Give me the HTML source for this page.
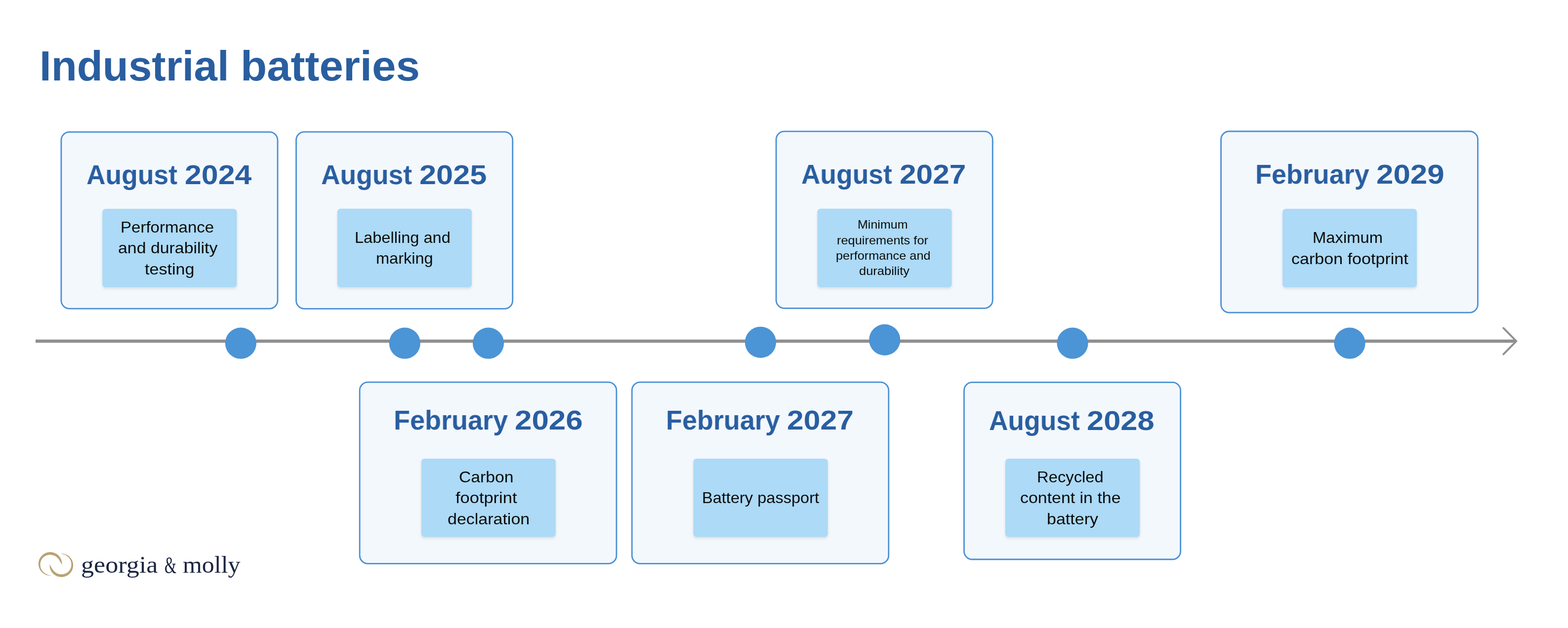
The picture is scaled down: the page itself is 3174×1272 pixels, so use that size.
<!DOCTYPE html>
<html lang="en">
<head>
<meta charset="utf-8">
<title>Industrial batteries</title>
<style>
html,body{margin:0;padding:0;background:#fff;}
body{width:3174px;height:1272px;position:relative;overflow:hidden;font-family:"Liberation Sans",sans-serif;}
.g{position:absolute;left:0;top:0;margin:0;padding:0;font-size:0;font-weight:400;}
.t{position:absolute;display:block;white-space:pre;line-height:1;will-change:transform;transform-origin:0 0;}
.title{font-weight:700;color:#295ea0;}
.title .t{font-size:85px;}
.h{font-weight:700;color:#295ea0;}
.b{color:#0a0a0a;}
.logo{font-family:"Liberation Serif",serif;color:#1b2542;}
.logo .t{font-size:49px;}
svg{position:absolute;left:0;top:0;}
</style>
</head>
<body>
<svg width="3174" height="1272" viewBox="0 0 3174 1272">
<defs><filter id="sh" x="-10%" y="-10%" width="120%" height="130%"><feGaussianBlur stdDeviation="2.6"/></filter></defs>
<rect x="123.90" y="267.40" width="438.10" height="357.80" rx="16.60" fill="#f3f8fd" stroke="#4a90d3" stroke-width="2.8"/>
<rect x="599.50" y="267.10" width="438.20" height="358.20" rx="16.60" fill="#f3f8fd" stroke="#4a90d3" stroke-width="2.8"/>
<rect x="1571.10" y="266.10" width="438.20" height="358.30" rx="16.60" fill="#f3f8fd" stroke="#4a90d3" stroke-width="2.8"/>
<rect x="2471.60" y="266.00" width="519.80" height="367.20" rx="16.60" fill="#f3f8fd" stroke="#4a90d3" stroke-width="2.8"/>
<rect x="728.10" y="774.20" width="519.80" height="367.40" rx="16.60" fill="#f3f8fd" stroke="#4a90d3" stroke-width="2.8"/>
<rect x="1279.20" y="774.20" width="519.60" height="367.40" rx="16.60" fill="#f3f8fd" stroke="#4a90d3" stroke-width="2.8"/>
<rect x="1951.50" y="774.30" width="438.20" height="358.70" rx="16.60" fill="#f3f8fd" stroke="#4a90d3" stroke-width="2.8"/>
<rect x="207.30" y="426.20" width="272.10" height="158.80" rx="6" fill="#000" fill-opacity="0.1" filter="url(#sh)"/>
<rect x="207.30" y="423.00" width="272.10" height="158.80" rx="6.5" fill="#acdaf7"/>
<rect x="682.90" y="426.00" width="272.10" height="158.90" rx="6" fill="#000" fill-opacity="0.1" filter="url(#sh)"/>
<rect x="682.90" y="422.80" width="272.10" height="158.90" rx="6.5" fill="#acdaf7"/>
<rect x="1654.50" y="426.00" width="272.10" height="158.90" rx="6" fill="#000" fill-opacity="0.1" filter="url(#sh)"/>
<rect x="1654.50" y="422.80" width="272.10" height="158.90" rx="6.5" fill="#acdaf7"/>
<rect x="2596.10" y="426.20" width="271.90" height="158.70" rx="6" fill="#000" fill-opacity="0.1" filter="url(#sh)"/>
<rect x="2596.10" y="423.00" width="271.90" height="158.70" rx="6.5" fill="#acdaf7"/>
<rect x="852.80" y="932.10" width="272.00" height="158.50" rx="6" fill="#000" fill-opacity="0.1" filter="url(#sh)"/>
<rect x="852.80" y="928.90" width="272.00" height="158.50" rx="6.5" fill="#acdaf7"/>
<rect x="1403.50" y="932.10" width="272.20" height="158.50" rx="6" fill="#000" fill-opacity="0.1" filter="url(#sh)"/>
<rect x="1403.50" y="928.90" width="272.20" height="158.50" rx="6.5" fill="#acdaf7"/>
<rect x="2034.90" y="932.20" width="272.30" height="158.40" rx="6" fill="#000" fill-opacity="0.1" filter="url(#sh)"/>
<rect x="2034.90" y="929.00" width="272.30" height="158.40" rx="6.5" fill="#acdaf7"/>
<line x1="72" y1="691.0" x2="3068.5" y2="691.0" stroke="#8f8f8f" stroke-width="6.6"/>
<polyline points="3043.3,664.5 3069.4,691 3043.3,717.5" fill="none" stroke="#8f8f8f" stroke-width="3.9" stroke-linecap="round" stroke-linejoin="round"/>
<circle cx="487.4" cy="695.2" r="31.6" fill="#4b94d6"/>
<circle cx="819.3" cy="695.2" r="31.6" fill="#4b94d6"/>
<circle cx="988.5" cy="695.2" r="31.6" fill="#4b94d6"/>
<circle cx="1539.5" cy="693.3" r="31.6" fill="#4b94d6"/>
<circle cx="1790.8" cy="688.4" r="31.6" fill="#4b94d6"/>
<circle cx="2171.1" cy="695.2" r="31.6" fill="#4b94d6"/>
<circle cx="2732.1" cy="695.2" r="31.6" fill="#4b94d6"/>
<path d="M125.44 1143.76 L125.50 1142.13 L125.45 1140.50 L125.28 1138.87 L125.00 1137.27 L124.62 1135.68 L124.12 1134.13 L123.52 1132.61 L122.82 1131.13 L122.02 1129.71 L121.13 1128.35 L120.14 1127.05 L119.06 1125.82 L117.91 1124.67 L116.67 1123.60 L115.37 1122.62 L114.00 1121.73 L112.58 1120.93 L111.10 1120.24 L109.58 1119.64 L108.02 1119.16 L106.44 1118.78 L104.83 1118.51 L103.20 1118.35 L101.57 1118.30 L99.94 1118.37 L98.32 1118.54 L96.71 1118.83 L95.13 1119.23 L93.58 1119.73 L92.06 1120.34 L90.59 1121.05 L89.18 1121.86 L87.82 1122.77 L86.53 1123.76 L85.31 1124.85 L84.16 1126.01 L83.10 1127.25 L82.13 1128.56 L81.25 1129.93 L80.46 1131.36 L79.77 1132.84 L79.19 1134.37 L78.71 1135.93 L78.35 1137.52 L78.09 1139.13 L77.94 1140.76 L77.90 1142.39 L77.98 1144.02 L78.16 1145.64 L78.46 1147.24 L78.87 1148.82 L79.38 1150.37 L80.00 1151.88 L80.72 1153.35 L81.54 1154.76 L82.46 1156.11 L83.46 1157.39 L84.56 1158.61 L85.73 1159.74 L86.97 1160.80 L88.29 1161.76 L89.67 1162.63 L91.10 1163.41 L92.59 1164.09 L94.12 1164.66 L95.68 1165.13 L97.27 1165.48 L98.89 1165.73 L100.51 1165.87 L102.14 1165.90 L103.77 1165.81 L103.77 1165.81 L102.14 1165.59 L100.54 1165.27 L98.99 1164.83 L97.48 1164.39 L96.00 1163.89 L94.57 1163.30 L93.20 1162.61 L91.88 1161.85 L90.61 1161.03 L89.40 1160.13 L88.27 1159.15 L87.21 1158.10 L86.24 1156.99 L85.34 1155.82 L84.54 1154.60 L83.82 1153.33 L83.20 1152.02 L82.68 1150.67 L82.25 1149.31 L81.92 1147.92 L81.69 1146.53 L81.56 1145.13 L81.52 1143.73 L81.58 1142.34 L81.71 1140.97 L81.92 1139.61 L82.22 1138.28 L82.62 1136.98 L83.10 1135.71 L83.66 1134.49 L84.31 1133.31 L85.03 1132.18 L85.82 1131.12 L86.68 1130.11 L87.61 1129.17 L88.59 1128.30 L89.62 1127.50 L90.70 1126.78 L91.82 1126.14 L92.98 1125.58 L94.17 1125.10 L95.39 1124.71 L96.60 1124.34 L97.83 1124.06 L99.08 1123.87 L100.34 1123.76 L101.60 1123.73 L102.86 1123.79 L104.11 1123.94 L105.35 1124.15 L106.58 1124.38 L107.80 1124.71 L109.00 1125.11 L110.18 1125.60 L111.32 1126.18 L112.42 1126.83 L113.47 1127.55 L114.48 1128.35 L115.48 1129.18 L116.47 1130.04 L117.41 1130.98 L118.30 1131.98 L119.11 1133.06 L119.86 1134.20 L120.53 1135.40 L121.12 1136.66 L121.97 1137.89 L122.81 1139.21 L123.56 1140.63 L124.45 1142.13 L125.44 1143.76 Z" fill="#b9a373"/>
<path d="M100.56 1143.34 L100.50 1144.97 L100.55 1146.60 L100.72 1148.23 L101.00 1149.83 L101.38 1151.42 L101.88 1152.97 L102.48 1154.49 L103.18 1155.97 L103.98 1157.39 L104.87 1158.75 L105.86 1160.05 L106.94 1161.28 L108.09 1162.43 L109.33 1163.50 L110.63 1164.48 L112.00 1165.37 L113.42 1166.17 L114.90 1166.86 L116.42 1167.46 L117.98 1167.94 L119.56 1168.32 L121.17 1168.59 L122.80 1168.75 L124.43 1168.80 L126.06 1168.73 L127.68 1168.56 L129.29 1168.27 L130.87 1167.87 L132.42 1167.37 L133.94 1166.76 L135.41 1166.05 L136.82 1165.24 L138.18 1164.33 L139.47 1163.34 L140.69 1162.25 L141.84 1161.09 L142.90 1159.85 L143.87 1158.54 L144.75 1157.17 L145.54 1155.74 L146.23 1154.26 L146.81 1152.73 L147.29 1151.17 L147.65 1149.58 L147.91 1147.97 L148.06 1146.34 L148.10 1144.71 L148.02 1143.08 L147.84 1141.46 L147.54 1139.86 L147.13 1138.28 L146.62 1136.73 L146.00 1135.22 L145.28 1133.75 L144.46 1132.34 L143.54 1130.99 L142.54 1129.71 L141.44 1128.49 L140.27 1127.36 L139.03 1126.30 L137.71 1125.34 L136.33 1124.47 L134.90 1123.69 L133.41 1123.01 L131.88 1122.44 L130.32 1121.97 L128.73 1121.62 L127.11 1121.37 L125.49 1121.23 L123.86 1121.20 L122.23 1121.29 L122.23 1121.29 L123.86 1121.51 L125.46 1121.83 L127.01 1122.27 L128.52 1122.71 L130.00 1123.21 L131.43 1123.80 L132.80 1124.49 L134.12 1125.25 L135.39 1126.07 L136.60 1126.97 L137.73 1127.95 L138.79 1129.00 L139.76 1130.11 L140.66 1131.28 L141.46 1132.50 L142.18 1133.77 L142.80 1135.08 L143.32 1136.43 L143.75 1137.79 L144.08 1139.18 L144.31 1140.57 L144.44 1141.97 L144.48 1143.37 L144.42 1144.76 L144.29 1146.13 L144.08 1147.49 L143.78 1148.82 L143.38 1150.12 L142.90 1151.39 L142.34 1152.61 L141.69 1153.79 L140.97 1154.92 L140.18 1155.98 L139.32 1156.99 L138.39 1157.93 L137.41 1158.80 L136.38 1159.60 L135.30 1160.32 L134.18 1160.96 L133.02 1161.52 L131.83 1162.00 L130.61 1162.39 L129.40 1162.76 L128.17 1163.04 L126.92 1163.23 L125.66 1163.34 L124.40 1163.37 L123.14 1163.31 L121.89 1163.16 L120.65 1162.95 L119.42 1162.72 L118.20 1162.39 L117.00 1161.99 L115.82 1161.50 L114.68 1160.92 L113.58 1160.27 L112.53 1159.55 L111.52 1158.75 L110.52 1157.92 L109.53 1157.06 L108.59 1156.12 L107.70 1155.12 L106.89 1154.04 L106.14 1152.90 L105.47 1151.70 L104.88 1150.44 L104.03 1149.21 L103.19 1147.89 L102.44 1146.47 L101.55 1144.97 L100.56 1143.34 Z" fill="#b9a373"/>
</svg>
<header>
<h1 class="g title"><span class="t" style="left:79.79px;top:90.85px;transform:scaleX(1.0029)">Industrial</span> <span class="t" style="left:487.08px;top:90.85px;transform:scaleX(1.0241)">batteries</span></h1>
</header>
<main>
<section>
<h2 class="g h"><span class="t" style="left:175.14px;top:326.90px;font-size:55.5px;transform:scaleX(0.9618)">August</span> <span class="t" style="left:373.70px;top:326.90px;font-size:55.5px;transform:scaleX(1.0963)">2024</span></h2>
<p class="g b"><span class="t" style="left:244.43px;top:444.10px;font-size:32px;transform:scaleX(1.0328)">Performance</span> <span class="t" style="left:238.94px;top:486.10px;font-size:32px;transform:scaleX(1.0584)">and durability</span> <span class="t" style="left:293.20px;top:529.00px;font-size:32px;transform:scaleX(1.0661)">testing</span></p>
</section>
<section>
<h2 class="g h"><span class="t" style="left:650.44px;top:326.65px;font-size:55.5px;transform:scaleX(0.9623)">August</span> <span class="t" style="left:848.90px;top:326.65px;font-size:55.5px;transform:scaleX(1.1036)">2025</span></h2>
<p class="g b"><span class="t" style="left:718.06px;top:465.40px;font-size:32px;transform:scaleX(1.0177)">Labelling and</span> <span class="t" style="left:761.07px;top:507.30px;font-size:32px;transform:scaleX(1.0162)">marking</span></p>
</section>
<section>
<h2 class="g h"><span class="t" style="left:796.68px;top:824.05px;font-size:55.5px;transform:scaleX(0.9726)">February</span> <span class="t" style="left:1042.18px;top:824.05px;font-size:55.5px;transform:scaleX(1.1153)">2026</span></h2>
<p class="g b"><span class="t" style="left:929.35px;top:950.20px;font-size:32px;transform:scaleX(1.0533)">Carbon</span> <span class="t" style="left:921.70px;top:992.00px;font-size:32px;transform:scaleX(1.0766)">footprint</span> <span class="t" style="left:905.94px;top:1035.00px;font-size:32px;transform:scaleX(1.0615)">declaration</span></p>
</section>
<section>
<h2 class="g h"><span class="t" style="left:1347.98px;top:824.05px;font-size:55.5px;transform:scaleX(0.9717)">February</span> <span class="t" style="left:1592.91px;top:824.05px;font-size:55.5px;transform:scaleX(1.0929)">2027</span></h2>
<p class="g b"><span class="t" style="left:1420.67px;top:991.70px;font-size:32px;transform:scaleX(1.0173)">Battery passport</span></p>
</section>
<section>
<h2 class="g h"><span class="t" style="left:1622.14px;top:325.65px;font-size:55.5px;transform:scaleX(0.9607)">August</span> <span class="t" style="left:1820.51px;top:325.65px;font-size:55.5px;transform:scaleX(1.0887)">2027</span></h2>
<p class="g b"><span class="t" style="left:1736.35px;top:442.50px;font-size:23.8px;transform:scaleX(1.0519)">Minimum</span> <span class="t" style="left:1694.23px;top:474.90px;font-size:23.8px;transform:scaleX(1.0677)">requirements for</span> <span class="t" style="left:1691.74px;top:505.50px;font-size:23.8px;transform:scaleX(1.0649)">performance and</span> <span class="t" style="left:1738.83px;top:537.00px;font-size:23.8px;transform:scaleX(1.0706)">durability</span></p>
</section>
<section>
<h2 class="g h"><span class="t" style="left:2002.14px;top:824.55px;font-size:55.5px;transform:scaleX(0.9607)">August</span> <span class="t" style="left:2200.49px;top:824.55px;font-size:55.5px;transform:scaleX(1.1069)">2028</span></h2>
<p class="g b"><span class="t" style="left:2099.35px;top:950.20px;font-size:32px;transform:scaleX(1.0242)">Recycled</span> <span class="t" style="left:2064.64px;top:991.70px;font-size:32px;transform:scaleX(1.0591)">content in the</span> <span class="t" style="left:2118.97px;top:1035.20px;font-size:32px;transform:scaleX(1.0634)">battery</span></p>
</section>
<section>
<h2 class="g h"><span class="t" style="left:2540.59px;top:326.05px;font-size:55.5px;transform:scaleX(0.9709)">February</span> <span class="t" style="left:2785.69px;top:326.05px;font-size:55.5px;transform:scaleX(1.1144)">2029</span></h2>
<p class="g b"><span class="t" style="left:2656.85px;top:465.20px;font-size:32px;transform:scaleX(1.0236)">Maximum</span> <span class="t" style="left:2613.84px;top:507.60px;font-size:32px;transform:scaleX(1.0647)">carbon footprint</span></p>
</section>
</main>
<footer>
<div class="g logo"><span class="t" style="left:164.27px;top:1119.30px;transform:scaleX(1.0645)">georgia</span> <span class="t" style="left:332.67px;top:1119.80px;transform:scaleX(0.6270)">&amp;</span> <span class="t" style="left:369.98px;top:1119.30px;transform:scaleX(1.0190)">molly</span></div>
</footer>
</body>
</html>
